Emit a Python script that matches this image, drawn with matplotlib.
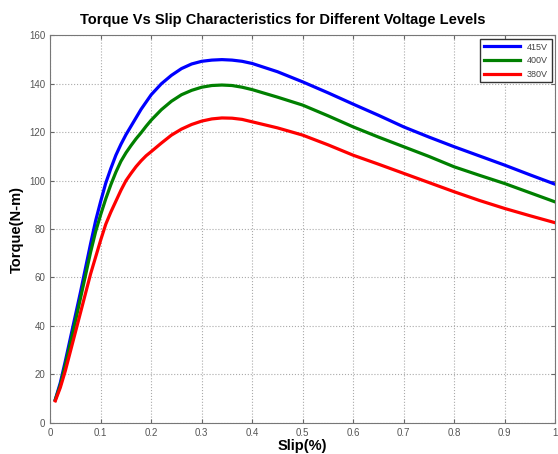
import numpy as np
from matplotlib import pyplot as plt

plt.rcParams['font.family'] = ['Liberation Sans', 'DejaVu Sans']

slip = [0.01, 0.02, 0.03, 0.04, 0.05, 0.06, 0.07, 0.08, 0.09, 0.10,
        0.11, 0.12, 0.13, 0.14, 0.15, 0.16, 0.17, 0.18, 0.19, 0.20,
        0.22, 0.24, 0.26, 0.28, 0.30, 0.32, 0.34, 0.36, 0.38, 0.40,
        0.45, 0.50, 0.55, 0.60, 0.65, 0.70, 0.75, 0.80, 0.85, 0.90, 0.95, 1.00]

torque_415 = [9.5, 16.5, 25.5, 35, 44.5, 54, 64, 74, 83.5, 91.5,
              99, 105, 110.5, 115, 119, 122.5, 126, 129.5, 132.5, 135.5,
              140, 143.5, 146.3, 148.2, 149.3, 149.8, 150, 149.8, 149.3, 148.4,
              145, 140.8, 136.3, 131.6, 127, 122.2, 118, 114, 110.2, 106.4, 102.4, 98.5]
torque_400 = [9.5, 15.5, 24, 33, 42, 51.5, 61, 70.5, 79, 86,
              92.5, 98.3, 103.5, 108, 111.5, 114.5, 117.3, 119.8, 122.5, 125,
              129.3, 132.8, 135.5, 137.3, 138.6, 139.3, 139.5, 139.3, 138.6, 137.6,
              134.5, 131.2, 126.8, 122.2, 118, 114, 110, 105.7, 102.2, 98.8, 95, 91.2]
torque_380 = [9, 14.5, 21.5, 29.5, 37.5, 45.5, 53.5, 61.5, 68.5, 75.5,
              82, 87, 91.5, 96, 100, 103, 105.8, 108.2, 110.3, 112,
              115.5, 118.8, 121.3, 123.2, 124.6, 125.5, 125.9, 125.8, 125.3, 124.3,
              121.8, 118.8, 114.8, 110.5, 106.8, 103, 99.2, 95.4, 91.8, 88.5, 85.5, 82.6]

labels = ['415V', '400V', '380V']
colors = ['#0000ff', '#008000', '#ff0000']

fig = plt.figure(figsize=(5.58, 4.54), dpi=100)
ax = fig.add_axes([0.09, 0.069, 0.905, 0.853])

for t, lab, c in zip([torque_415, torque_400, torque_380], labels, colors):
    ax.plot(slip, t, color=c, linewidth=2.3, label=lab, solid_joinstyle='round')

ax.set_xlim(0, 1)
ax.set_ylim(0, 160)
ax.set_xticks(np.arange(0, 1.01, 0.1))
ax.set_xticklabels(['0', '0.1', '0.2', '0.3', '0.4', '0.5', '0.6', '0.7', '0.8', '0.9', '1'])
ax.set_yticks(np.arange(0, 161, 20))
ax.grid(True, linestyle=':', color='#aaaaaa', linewidth=0.8)
ax.tick_params(direction='in', top=True, right=True, labelsize=7,
               labelcolor='#555555', color='#666666', length=3)
for sp in ax.spines.values():
    sp.set_color('#777777')

ax.set_title('Torque Vs Slip Characteristics for Different Voltage Levels',
             fontsize=10.5, fontweight='bold', pad=8, x=0.46)
ax.set_xlabel('Slip(%)', fontsize=10.5, fontweight='bold', labelpad=1)
ax.set_ylabel('Torque(N-m)', fontsize=10.5, fontweight='bold', labelpad=4)

leg = ax.legend(loc='upper right', fontsize=6.5, fancybox=False, framealpha=1,
                edgecolor='#333333', handlelength=4, borderaxespad=0.4)
for t in leg.get_texts():
    t.set_color('#444444')

fig.savefig('out.png', dpi=100)
